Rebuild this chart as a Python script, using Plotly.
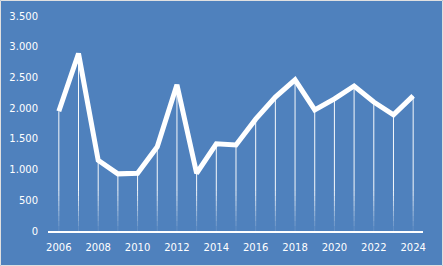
import plotly.graph_objects as go

years = list(range(2006, 2025))
values = [1950, 2890, 1150, 930, 940, 1370, 2380, 940, 1420, 1400,
          1820, 2180, 2460, 1970, 2150, 2360, 2100, 1890, 2200]
y_ticks = [0, 500, 1000, 1500, 2000, 2500, 3000, 3500]
x_ticks = list(range(2006, 2025, 2))

BG = "#4F81BD"
fig = go.Figure()

# drop lines, fading towards the axis
fade_top = 650
n_seg = 8
xs, ys = [], []
for x, v in zip(years, values):
    xs += [x, x, None]
    ys += [v, fade_top, None]
fig.add_trace(go.Scatter(x=xs, y=ys, mode="lines",
                         line=dict(color="rgba(255,255,255,0.95)", width=1),
                         hoverinfo="skip", showlegend=False))
for i in range(n_seg):
    a = fade_top * (1 - i / n_seg)
    b = fade_top * (1 - (i + 1) / n_seg)
    op = 0.9 * (1 - (i + 0.5) / n_seg) + 0.05
    xs, ys = [], []
    for x, v in zip(years, values):
        xs += [x, x, None]
        ys += [a, b, None]
    fig.add_trace(go.Scatter(x=xs, y=ys, mode="lines",
                             line=dict(color=f"rgba(255,255,255,{op:.2f})", width=1),
                             hoverinfo="skip", showlegend=False))

fig.add_trace(go.Scatter(x=years, y=values, mode="lines",
                         line=dict(color="white", width=5),
                         showlegend=False))

fig.update_layout(
    width=443, height=266,
    margin=dict(l=48, r=20, t=16, b=35, autoexpand=False),
    paper_bgcolor=BG, plot_bgcolor=BG,
    separators=",.",
    font=dict(family="DejaVu Sans", size=10, color="white"),
    xaxis=dict(range=[2005.45, 2024.5], tickvals=x_ticks,
               ticktext=[str(t) for t in x_ticks], automargin=False,
               showgrid=False, zeroline=False, showline=True,
               linecolor="white", linewidth=1.5, ticks="",
               ticklabelstandoff=6,
               tickfont=dict(family="DejaVu Sans", size=10, color="white")),
    yaxis=dict(range=[0, 3500], tickvals=y_ticks, tickformat=",d",
               automargin=False,
               showgrid=False, zeroline=False, showline=False, ticks="",
               ticklabelstandoff=9,
               tickfont=dict(family="DejaVu Sans", size=10, color="white")),
    shapes=[dict(type="rect", xref="paper", yref="paper",
                 x0=(0.5 - 48) / 375, x1=(442.5 - 48) / 375,
                 y0=-(265.5 - 231) / 215, y1=1 + (16 - 0.5) / 215,
                 line=dict(color="#E0E0E0", width=1), layer="above")],
)

fig.write_html("out.html")
